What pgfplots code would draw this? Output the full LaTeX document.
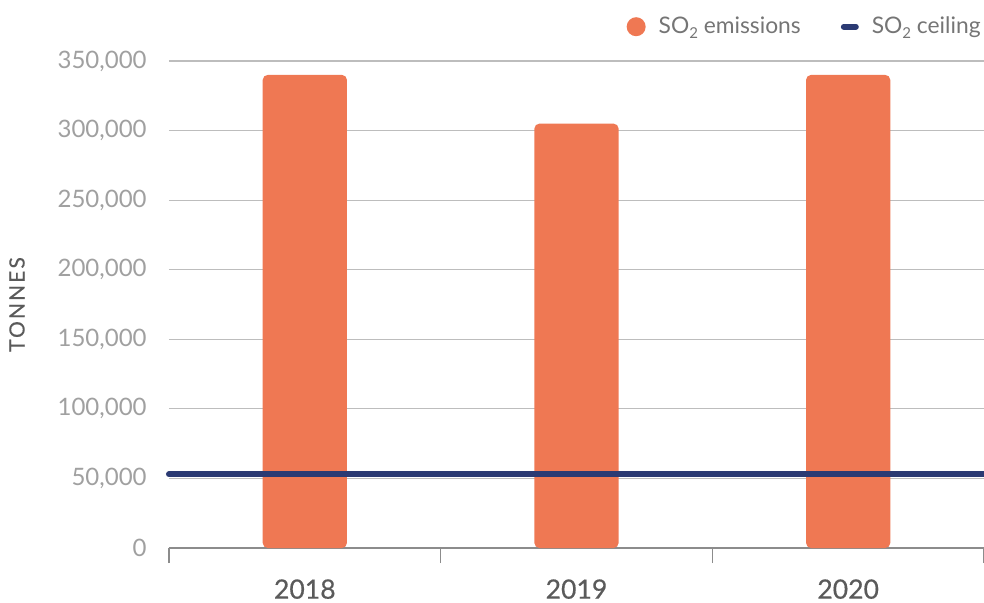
\documentclass[border=0pt]{standalone}
\usepackage{fontspec}
\setmainfont{Lato}
\usepackage{pgfplots}
\pgfplotsset{compat=1.18}
\definecolor{barc}{HTML}{EF7853}
\definecolor{navy}{HTML}{2B3A73}
\definecolor{gridc}{HTML}{BDBDBD}
\definecolor{axc}{HTML}{8C8C8C}
\definecolor{ytc}{HTML}{A0A0A0}
\definecolor{xtc}{HTML}{5A5A5A}
\definecolor{legc}{HTML}{757575}
\newcommand{\sub}[1]{\raisebox{-2.4bp}{\fontsize{7.5bp}{8bp}\selectfont #1}}
\begin{document}
\begin{tikzpicture}
\begin{axis}[
  at={(0,0)}, anchor=south west,
  scale only axis, width=407.5bp, height=243.5bp,
  ymin=0, ymax=350000,
  xmin=-0.5, xmax=2.5,
  ytick={0,50000,100000,150000,200000,250000,300000,350000},
  yticklabels={0,{50,000},{100,000},{150,000},{200,000},{250,000},{300,000},{350,000}},
  scaled y ticks=false,
  xtick={0,1,2}, xticklabels={2018,2019,2020},
  minor xtick={-0.5,0.5,1.5,2.5},
  major tick length=0pt, minor tick length=7.5bp,
  tick align=outside,
  minor x tick style={draw=axc, line width=0.8bp},
  ytick style={draw=none},
  axis x line*=bottom, axis y line*=left,
  x axis line style={draw=axc, line width=0.8bp},
  y axis line style={draw=none},
  ymajorgrids, grid style={draw=gridc, line width=0.6bp},
  yticklabel style={font=\fontsize{12bp}{14bp}\selectfont, text=ytc, inner sep=0pt, anchor=east, xshift=-11bp},
  xticklabel style={font=\fontsize{13.3bp}{16bp}\selectfont\addfontfeature{FakeBold=0.5}, text=xtc, inner sep=0pt, anchor=north, yshift=-15.5bp},
  ylabel={\addfontfeature{LetterSpace=10, FakeBold=0.4}TONNES},
  every axis y label/.style={at={([xshift=-76bp]axis description cs:0,0.5)}, rotate=90, anchor=center, font=\fontsize{10.5bp}{12bp}\selectfont, text=xtc},
  clip=false,
  legend columns=2,
  legend cell align=left,
  legend style={at={(1,1)}, anchor=south east, xshift=-1.5bp, yshift=12bp, draw=none, fill=none, inner sep=0pt,
    font=\fontsize{11.4bp}{14bp}\selectfont, text=legc,
    nodes={inner sep=0pt},
    /tikz/every odd column/.append style={column sep=6.5bp},
    /tikz/every even column/.append style={column sep=20bp}},
]
\addplot[ybar, bar width=0.31, fill=barc, draw=none, rounded corners=2.5bp,
  legend image code/.code={\fill[barc] (4.75bp,0) circle (4.75bp);}]
  coordinates {(0,340000) (1,305000) (2,340000)};
\addlegendentry{SO\sub{2} emissions}
\addplot[navy, line width=3bp, line cap=round,
  legend image code/.code={\draw[navy, line width=3bp, line cap=round] (1.5bp,0) -- (7.5bp,0);}]
  coordinates {(-0.5,53000) (2.5,53000)};
\addlegendentry{SO\sub{2} ceiling}
\end{axis}
\pgfresetboundingbox
\path[use as bounding box] (-84.5bp,-27.5bp) rectangle (407.5bp,274bp);
\end{tikzpicture}
\end{document}
